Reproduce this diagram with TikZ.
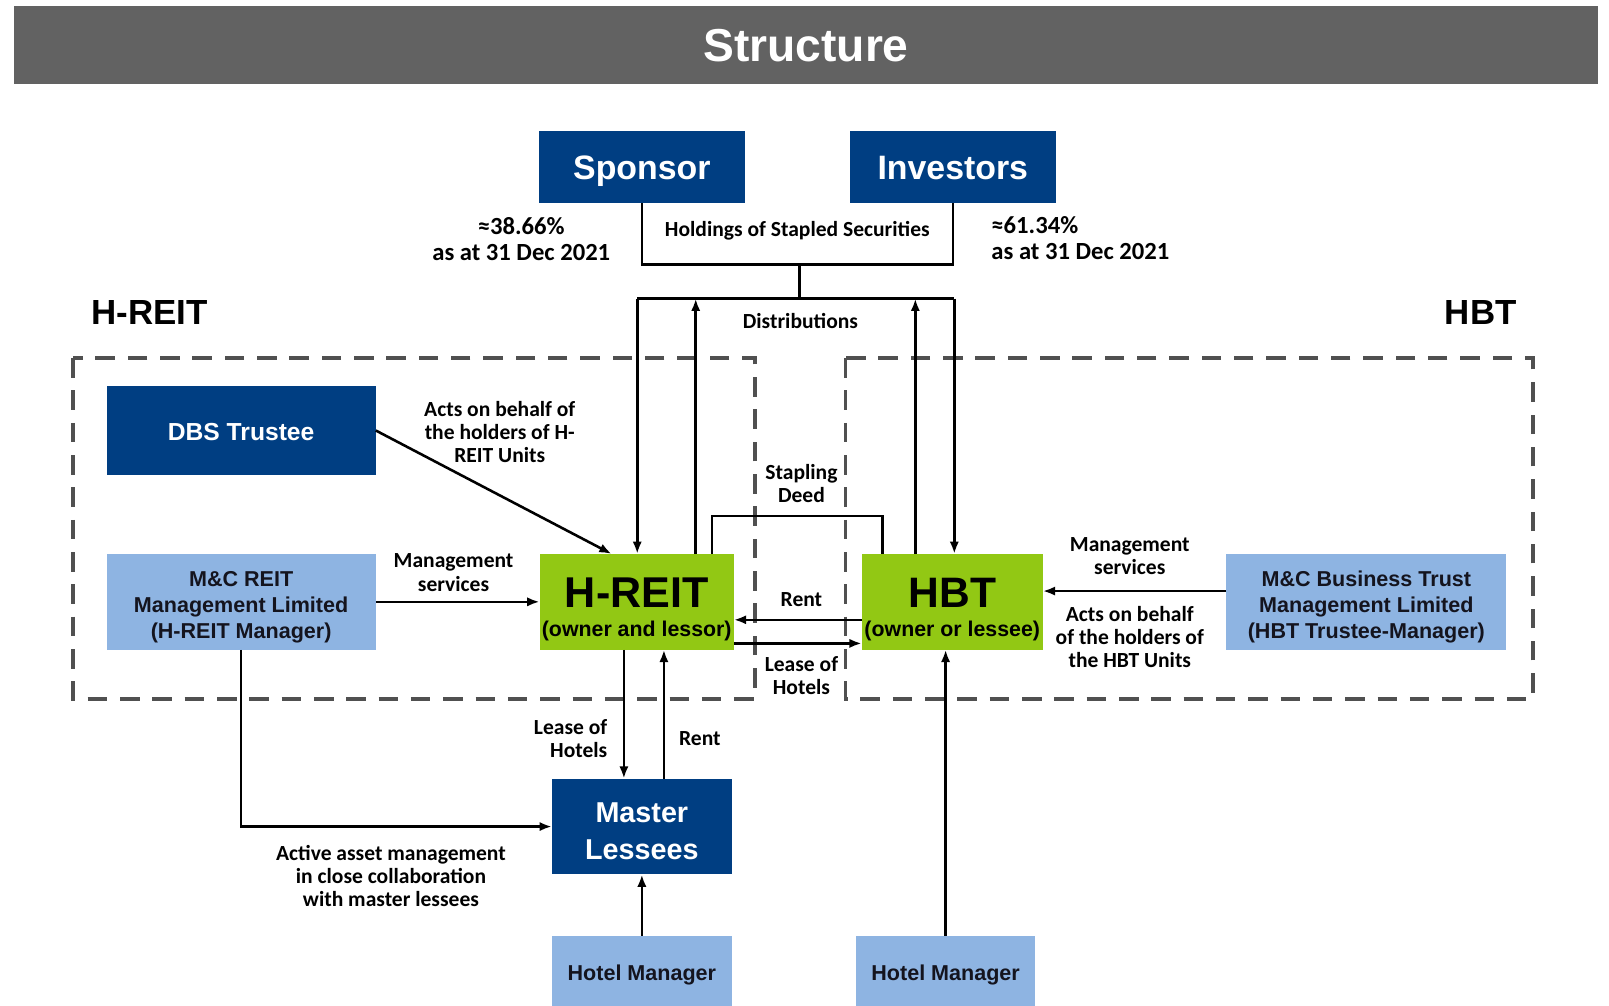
\documentclass[tikz,border=0pt]{standalone}
\usepackage{fontspec}
\setmainfont{Liberation Sans}
\newfontfamily\labfont{Carlito}
\usetikzlibrary{arrows.meta,calc}
\definecolor{dblue}{RGB}{0,62,130}
\definecolor{lblue}{RGB}{142,180,226}
\definecolor{hgreen}{RGB}{146,200,20}
\definecolor{tbar}{RGB}{98,98,98}
\definecolor{dashc}{RGB}{80,80,80}
\definecolor{dtxt}{RGB}{20,20,30}
\begin{document}
\begin{tikzpicture}[x=1pt,y=-1pt,
 box/.style={inner sep=0pt, align=center},
 darkbox/.style={box, fill=dblue, text=white},
 lightbox/.style={box, fill=lblue, text=dtxt},
 greenbox/.style={box, fill=hgreen, text=black},
 lbl/.style={inner sep=0pt, align=center, text=black, font=\labfont\bfseries\fontsize{21}{22.5}\selectfont},
 pct/.style={lbl, font=\labfont\bfseries\fontsize{24}{26}\selectfont},
 ln/.style={line width=2.5pt, black},
 arr/.style={ln, -{Latex[length=12pt,width=9pt]}},
 dashbox/.style={line width=3.5pt, dashc, dash pattern=on 19pt off 12.5pt}
]
\useasboundingbox[fill=white] (0,0) rectangle (1568,980);

% title bar
\node[fill=tbar, minimum width=1543, minimum height=76, inner sep=0pt, text=white,
      font=\bfseries\fontsize{45}{45}\selectfont] (title) at (785.5,44) {Structure};

% group labels
\node[inner sep=0pt, font=\bfseries\fontsize{34}{34}\selectfont] (hreitlab) at (146,305) {H-REIT};
\node[inner sep=0pt, font=\bfseries\fontsize{34}{34}\selectfont] (hbtlab) at (1443,305) {HBT};

% dashed group boxes
\draw[dashbox] (71,349) rectangle (736,681);
\draw[dashbox] (824,349) rectangle (1494,681);

% boxes
\node[darkbox, minimum width=201, minimum height=70, text height=24pt, text depth=0pt, font=\bfseries\fontsize{33}{33}\selectfont] (sponsor) at (625.5,163) {Sponsor};
\node[darkbox, minimum width=201, minimum height=70, text height=24pt, text depth=0pt, font=\bfseries\fontsize{33}{33}\selectfont] (investors) at (928.5,163) {Investors};
\node[darkbox, minimum width=262, minimum height=87, text height=20pt, text depth=0pt, font=\bfseries\fontsize{24}{24}\selectfont] (dbs) at (235,419.5) {DBS Trustee};
\node[lightbox, minimum width=262, minimum height=93, font=\bfseries\fontsize{21}{25}\selectfont] (mcr) at (235,586.5) {\rule{0pt}{25pt}M\&C REIT\\Management Limited\\(H-REIT Manager)};
\node[greenbox, minimum width=189, minimum height=93, font=\bfseries\fontsize{20.8}{29}\selectfont] (hreit) at (620.5,586.5) {{\fontsize{42}{29}\selectfont\rule{0pt}{43.5pt}H-REIT}\\(owner and lessor)};
\node[greenbox, minimum width=176, minimum height=93, font=\bfseries\fontsize{20.8}{29}\selectfont] (hbt) at (928,586.5) {{\fontsize{41.5}{29}\selectfont\rule{0pt}{43.5pt}HBT}\\(owner or lessee)};
\node[lightbox, minimum width=273, minimum height=93, font=\bfseries\fontsize{21}{25}\selectfont] (mcb) at (1331.5,586.5) {\rule{0pt}{25pt}M\&C Business Trust\\Management Limited\\(HBT Trustee-Manager)};
\node[darkbox, minimum width=175, minimum height=93, font=\bfseries\fontsize{28}{36}\selectfont] (master) at (625.5,805.5) {\rule{0pt}{28pt}Master\\Lessees};
\node[lightbox, minimum width=175, minimum height=68, text height=19pt, text depth=0pt, font=\bfseries\fontsize{21}{21}\selectfont] (hm1) at (625.5,946) {Hotel Manager};
\node[lightbox, minimum width=175, minimum height=68, text height=19pt, text depth=0pt, font=\bfseries\fontsize{21}{21}\selectfont] (hm2) at (921.5,946) {Hotel Manager};

% junction coordinates
\coordinate (j1) at (779,258);
\coordinate (j2) at (779,291);
\coordinate (dl) at (621,291);
\coordinate (dr) at (930,291);
\coordinate (ul) at (678,291);
\coordinate (ur) at (892,291);
\coordinate (sa) at (694,503);
\coordinate (sb) at (860,503);

% holdings / distributions
\draw[ln] (sponsor.south) |- (j1) -| (investors.south);
\draw[ln] (j1) -- (j2);
\draw[ln] (dl) -- (dr);
\draw[arr] (dl) -- (dl |- hreit.north);
\draw[arr] (dr) -- (dr |- hbt.north);
\draw[arr] (ul |- hreit.north) -- (ul);
\draw[arr] (ur |- hbt.north) -- (ur);

% stapling deed
\draw[ln] (sa |- hreit.north) -- (sa) -- (sb) -- (sb |- hbt.north);

% between H-REIT and HBT
\draw[arr] ([yshift=-17.5pt]hbt.west) -- ([yshift=-17.5pt]hreit.east);
\draw[arr] ([yshift=-40.5pt]hreit.east) -- ([yshift=-40.5pt]hbt.west);

% managers
\draw[arr] (dbs.east) -- ([xshift=-24.5pt]hreit.north);
\draw[arr] (mcr.east) -- (hreit.west);
\draw[arr] ([yshift=10.5pt]mcb.west) -- ([yshift=10.5pt]hbt.east);

% master lessees
\draw[arr] ([xshift=-12.5pt]hreit.south) -- ([xshift=-12.5pt]hreit.south |- master.north);
\draw[arr] ([xshift=21.5pt]master.north) -- ([xshift=21.5pt]master.north |- hreit.south);
\draw[arr] (mcr.south) |- (master.west);
\draw[arr] (hm1.north) -- (master.south);
\draw[arr] (hm2.north) -- (hm2.north |- hbt.south);

% labels
\node[pct] (pctl) at (508,233) {≈38.66\%\\as at 31 Dec 2021};
\node[pct, anchor=west, align=left] (pctr) at (966,232) {≈61.34\%\\as at 31 Dec 2021};
\node[lbl] (holdlab) at (777,225) {Holdings of Stapled Securities};
\node[lbl] (distlab) at (780,313) {Distributions};
\node[lbl] (actslab) at (487,421) {Acts on behalf of\\the holders of H-\\REIT Units};
\node[lbl] (mgmtl) at (442,558) {Management\\services};
\node[lbl] (staplab) at (781,471) {Stapling\\Deed};
\node[lbl] (rentmid) at (781,584) {Rent};
\node[lbl] (leasemid) at (781,658) {Lease of\\Hotels};
\node[lbl] (mgmtr) at (1101,542) {Management\\services};
\node[lbl] (actsr) at (1101,621) {Acts on behalf\\of the holders of\\the HBT Units};
\node[lbl, anchor=east, align=right] (leaselow) at (592,720) {Lease of\\Hotels};
\node[lbl] (rentlow) at (682,720) {Rent};
\node[lbl] (activelab) at (381,854) {Active asset management\\in close collaboration\\with master lessees};
\end{tikzpicture}
\end{document}
